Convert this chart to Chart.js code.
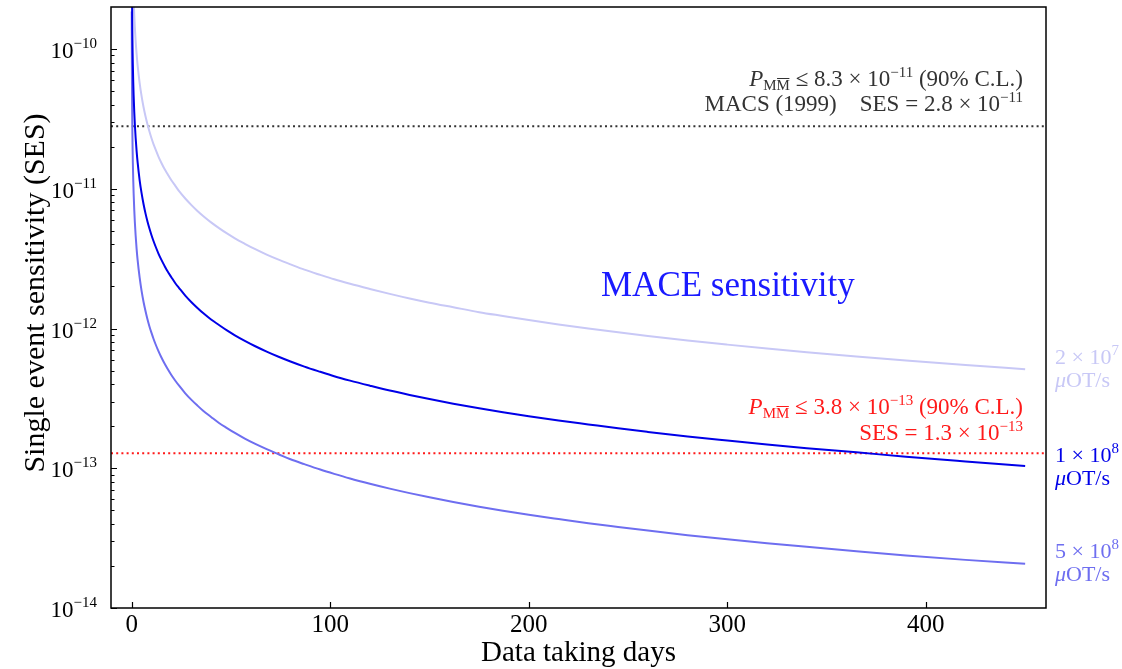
<!DOCTYPE html>
<html>
<head>
<meta charset="utf-8">
<title>MACE sensitivity</title>
<script src="https://cdn.jsdelivr.net/npm/chart.js@4.4.1/dist/chart.umd.min.js"></script>
<style>
  html, body { margin: 0; padding: 0; background: #fff; }
  canvas { display: block; }
</style>
</head>
<body>
<canvas id="ses-chart" width="1122" height="669"></canvas>
<script>
// Single event sensitivity vs. data taking days

const days = [0.05, 0.07, 0.1, 0.13, 0.17, 0.2, 0.25, 0.3, 0.4, 0.5,
    0.6, 0.8, 1, 1.3, 1.6, 2, 2.5, 3, 4, 5,
    6, 7, 8, 9, 10, 11, 12, 13.5, 15, 16.5,
    18, 20, 22, 24, 27, 30, 33, 36, 40, 44,
    48, 52, 57, 62, 68, 74, 80, 87, 95, 102,
    110, 120, 130, 140, 150, 162, 175, 187, 200, 215,
    230, 245, 260, 280, 300, 320, 340, 365, 390, 420,
    450];

// 2 x 10^7 muOT/s
const sesLow = [4.6e-9, 3.29e-9, 2.3e-9, 1.77e-9, 1.35e-9, 1.15e-9, 9.2e-10, 7.67e-10, 5.75e-10, 4.6e-10,
    3.83e-10, 2.88e-10, 2.3e-10, 1.77e-10, 1.44e-10, 1.15e-10, 9.2e-11, 7.67e-11, 5.75e-11, 4.6e-11,
    3.83e-11, 3.29e-11, 2.88e-11, 2.56e-11, 2.3e-11, 2.09e-11, 1.92e-11, 1.7e-11, 1.53e-11, 1.39e-11,
    1.28e-11, 1.15e-11, 1.05e-11, 9.58e-12, 8.52e-12, 7.67e-12, 6.97e-12, 6.39e-12, 5.75e-12, 5.23e-12,
    4.79e-12, 4.42e-12, 4.04e-12, 3.71e-12, 3.38e-12, 3.11e-12, 2.88e-12, 2.64e-12, 2.42e-12, 2.25e-12,
    2.09e-12, 1.92e-12, 1.77e-12, 1.64e-12, 1.53e-12, 1.42e-12, 1.31e-12, 1.23e-12, 1.15e-12, 1.07e-12,
    1.0e-12, 9.39e-13, 8.85e-13, 8.21e-13, 7.67e-13, 7.19e-13, 6.76e-13, 6.3e-13, 5.9e-13, 5.48e-13,
    5.11e-13];
// 1 x 10^8 muOT/s
const sesMid = [9.3e-10, 6.64e-10, 4.65e-10, 3.58e-10, 2.74e-10, 2.33e-10, 1.86e-10, 1.55e-10, 1.16e-10, 9.3e-11,
    7.75e-11, 5.81e-11, 4.65e-11, 3.58e-11, 2.91e-11, 2.33e-11, 1.86e-11, 1.55e-11, 1.16e-11, 9.3e-12,
    7.75e-12, 6.64e-12, 5.81e-12, 5.17e-12, 4.65e-12, 4.23e-12, 3.88e-12, 3.44e-12, 3.1e-12, 2.82e-12,
    2.58e-12, 2.33e-12, 2.11e-12, 1.94e-12, 1.72e-12, 1.55e-12, 1.41e-12, 1.29e-12, 1.16e-12, 1.06e-12,
    9.69e-13, 8.94e-13, 8.16e-13, 7.5e-13, 6.84e-13, 6.28e-13, 5.81e-13, 5.34e-13, 4.9e-13, 4.56e-13,
    4.24e-13, 3.9e-13, 3.6e-13, 3.35e-13, 3.13e-13, 2.9e-13, 2.69e-13, 2.52e-13, 2.36e-13, 2.2e-13,
    2.06e-13, 1.93e-13, 1.82e-13, 1.69e-13, 1.58e-13, 1.48e-13, 1.39e-13, 1.3e-13, 1.21e-13, 1.12e-13,
    1.04e-13];
// 5 x 10^8 muOT/s
const sesHigh = [1.86e-10, 1.33e-10, 9.3e-11, 7.15e-11, 5.47e-11, 4.65e-11, 3.72e-11, 3.1e-11, 2.33e-11, 1.86e-11,
    1.55e-11, 1.16e-11, 9.3e-12, 7.15e-12, 5.81e-12, 4.65e-12, 3.72e-12, 3.1e-12, 2.33e-12, 1.86e-12,
    1.55e-12, 1.33e-12, 1.16e-12, 1.03e-12, 9.3e-13, 8.45e-13, 7.75e-13, 6.89e-13, 6.2e-13, 5.64e-13,
    5.17e-13, 4.65e-13, 4.23e-13, 3.88e-13, 3.44e-13, 3.1e-13, 2.82e-13, 2.58e-13, 2.33e-13, 2.11e-13,
    1.94e-13, 1.79e-13, 1.63e-13, 1.5e-13, 1.37e-13, 1.26e-13, 1.16e-13, 1.07e-13, 9.79e-14, 9.12e-14,
    8.45e-14, 7.75e-14, 7.15e-14, 6.64e-14, 6.2e-14, 5.74e-14, 5.31e-14, 4.97e-14, 4.65e-14, 4.33e-14,
    4.04e-14, 3.8e-14, 3.58e-14, 3.32e-14, 3.1e-14, 2.91e-14, 2.74e-14, 2.55e-14, 2.38e-14, 2.21e-14,
    2.07e-14];

// horizontal reference levels: MACS (1999) and the MACE target
const refLevels = [2.8e-11, 1.28e-13];

const xTicks = [0, 100, 200, 300, 400];
const yTicks = [1e-14, 1e-13, 1e-12, 1e-11, 1e-10];
const yTickExp = ['\u221214', '\u221213', '\u221212', '\u221211', '\u221210'];

const X_MIN = -10.4, X_MAX = 460.5;
const Y_MIN = 1e-14, Y_MAX = 2e-10;

const SERIF = "'Liberation Serif', 'Times New Roman', serif";
const LIGHT = 'rgb(200, 200, 246)';
const BLUE = 'rgb(0, 0, 232)';
const MEDIUM = 'rgb(110, 110, 240)';
const RED = '#ff1a1a';

function font(size, italic) {
    return (italic ? 'italic ' : '') + size + 'px ' + SERIF;
}

function toPoints(values) {
    return days.map((d, i) => ({ x: d, y: values[i] }));
}

// draws a row of text pieces (for super/subscripts), aligned at x
function drawRuns(ctx, runs, x, y, align, color) {
    let total = 0;
    runs.forEach(r => { ctx.font = font(r.size, r.italic); r.w = ctx.measureText(r.t).width; total += r.w; });
    let cx = align === 'right' ? x - total : x;
    ctx.fillStyle = color;
    ctx.textAlign = 'left';
    ctx.textBaseline = 'alphabetic';
    runs.forEach(r => {
        ctx.font = font(r.size, r.italic);
        ctx.fillText(r.t, cx, y + (r.dy || 0));
        if (r.over) {
            ctx.fillRect(cx + 0.5, y + (r.dy || 0) - r.size * 0.8, r.w - 1, 1);
        }
        cx += r.w;
    });
}

function limitRuns(value, exp) {
    return [
        { t: 'P', size: 23, italic: true },
        { t: 'M', size: 15, dy: 4 },
        { t: 'M', size: 15, dy: 4, over: true },
        { t: ' \u2264 ' + value + ' \u00d7 10', size: 23 },
        { t: '\u2212' + exp, size: 15, dy: -9 },
        { t: ' (90% C.L.)', size: 23 }
    ];
}

const framePlugin = {
    id: 'frame',
    afterDraw(chart) {
        const { ctx, chartArea: a, scales } = chart;
        const xs = scales.x, ys = scales.y;
        ctx.save();

        // frame
        ctx.strokeStyle = '#000';
        ctx.lineWidth = 1.5;
        ctx.strokeRect(a.left, a.top, a.right - a.left, a.bottom - a.top);

        // inward ticks on the left axis
        ctx.lineWidth = 1.2;
        ctx.beginPath();
        for (let e = -14; e <= -10; e++) {
            for (let m = 1; m <= 9; m++) {
                const v = m * Math.pow(10, e);
                if (v > Y_MAX * 0.999) continue;
                const py = Math.round(ys.getPixelForValue(v)) + 0.5;
                const len = m === 1 ? 6 : 3.5;
                ctx.moveTo(a.left, py);
                ctx.lineTo(a.left + len, py);
            }
        }
        // inward ticks on the bottom axis
        xTicks.forEach(t => {
            const px = Math.round(xs.getPixelForValue(t)) + 0.5;
            ctx.moveTo(px, a.bottom);
            ctx.lineTo(px, a.bottom - 6);
        });
        ctx.stroke();

        // y tick labels 10^n
        yTicks.forEach((t, i) => {
            const py = ys.getPixelForValue(t);
            drawRuns(ctx, [
                { t: '10', size: 23 },
                { t: yTickExp[i], size: 15, dy: -10 }
            ], 97, py + 9, 'right', '#000');
        });

        // y axis title
        ctx.save();
        ctx.translate(36, 293);
        ctx.rotate(-Math.PI / 2);
        ctx.font = font(30);
        ctx.fillStyle = '#000';
        ctx.textAlign = 'center';
        ctx.textBaseline = 'middle';
        ctx.fillText('Single event sensitivity (SES)', 0, 0);
        ctx.restore();

        // MACS (1999) annotation
        drawRuns(ctx, limitRuns('8.3', '11'), 1023, 86, 'right', '#333');
        drawRuns(ctx, [
            { t: 'MACS (1999)    SES = 2.8 \u00d7 10', size: 23 },
            { t: '\u221211', size: 15, dy: -9 }
        ], 1023, 111, 'right', '#333');

        // MACE target annotation
        drawRuns(ctx, limitRuns('3.8', '13'), 1023, 414, 'right', RED);
        drawRuns(ctx, [
            { t: 'SES = 1.3 \u00d7 10', size: 23 },
            { t: '\u221213', size: 15, dy: -9 }
        ], 1023, 440, 'right', RED);

        // big label
        ctx.font = font(35);
        ctx.fillStyle = '#1a1aff';
        ctx.textAlign = 'left';
        ctx.fillText('MACE sensitivity', 601, 296);

        // series labels at right
        const labels = [
            { mant: '2', exp: '7', color: LIGHT, y: 364 },
            { mant: '1', exp: '8', color: BLUE, y: 462 },
            { mant: '5', exp: '8', color: MEDIUM, y: 558 }
        ];
        labels.forEach(l => {
            drawRuns(ctx, [
                { t: l.mant + ' \u00d7 10', size: 22 },
                { t: l.exp, size: 15, dy: -9 }
            ], 1055, l.y, 'left', l.color);
            drawRuns(ctx, [
                { t: '\u03bc', size: 22, italic: true },
                { t: 'OT/s', size: 22 }
            ], 1055, l.y + 23, 'left', l.color);
        });

        ctx.restore();
    }
};

const curveStyle = { pointRadius: 0, borderWidth: 2, fill: false, cubicInterpolationMode: 'monotone' };

new Chart(document.getElementById('ses-chart').getContext('2d'), {
    type: 'line',
    data: {
        datasets: [
            { label: '1e8', data: toPoints(sesMid), borderColor: BLUE, ...curveStyle },
            { label: '5e8', data: toPoints(sesHigh), borderColor: MEDIUM, ...curveStyle },
            { label: '2e7', data: toPoints(sesLow), borderColor: LIGHT, ...curveStyle },
            {
                label: 'MACS', data: [{ x: X_MIN, y: refLevels[0] }, { x: X_MAX, y: refLevels[0] }],
                borderColor: '#333', borderWidth: 2, borderDash: [2, 3.2], pointRadius: 0
            },
            {
                label: 'MACE', data: [{ x: X_MIN, y: refLevels[1] }, { x: X_MAX, y: refLevels[1] }],
                borderColor: RED, borderWidth: 2, borderDash: [2, 3.2], pointRadius: 0
            }
        ]
    },
    options: {
        responsive: false,
        animation: false,
        devicePixelRatio: 1,
        layout: { padding: { left: 0, top: 7, right: 76, bottom: 0 } },
        plugins: { legend: { display: false }, tooltip: { enabled: false } },
        scales: {
            x: {
                type: 'linear',
                min: X_MIN,
                max: X_MAX,
                grid: { display: false, drawTicks: false },
                border: { display: false },
                afterBuildTicks: s => { s.ticks = xTicks.map(v => ({ value: v })); },
                afterFit: s => { s.height = 61; },
                ticks: { color: '#000', font: { family: SERIF, size: 25 }, padding: 2 },
                title: {
                    display: true, text: 'Data taking days', color: '#000',
                    font: { family: SERIF, size: 29, lineHeight: 1 }, padding: { top: 0, bottom: 1 }
                }
            },
            y: {
                type: 'logarithmic',
                min: Y_MIN,
                max: Y_MAX,
                grid: { display: false, drawTicks: false },
                border: { display: false },
                afterBuildTicks: s => { s.ticks = yTicks.map(v => ({ value: v })); },
                afterFit: s => { s.width = 111; },
                ticks: { display: false }
            }
        }
    },
    plugins: [framePlugin]
});
</script>
</body>
</html>
